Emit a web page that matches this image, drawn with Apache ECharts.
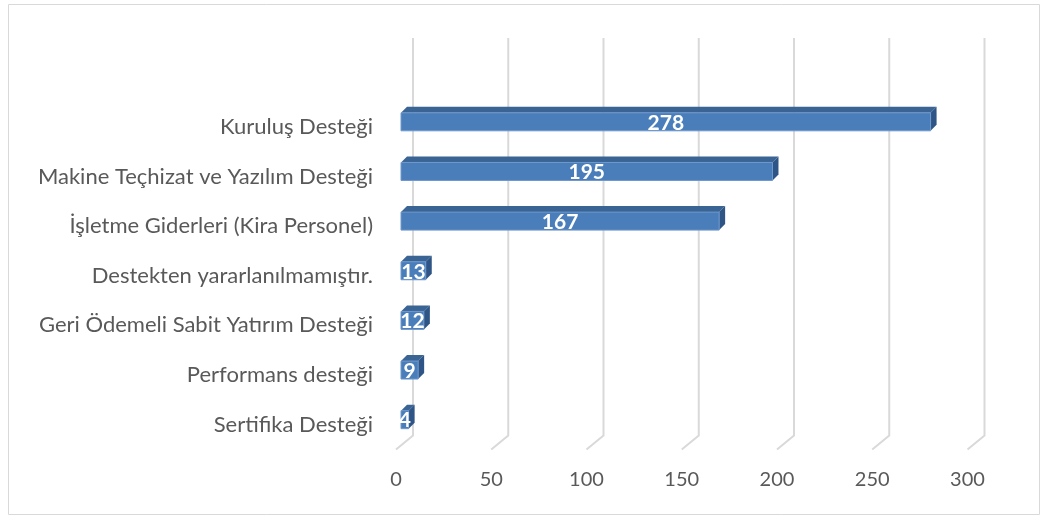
<!DOCTYPE html>
<html>
<head>
<meta charset="utf-8">
<title>Destek türleri</title>
<script src="https://cdn.jsdelivr.net/npm/echarts@6/dist/echarts.min.js"></script>
<style>
  html, body { margin : 0; padding : 0; background : #ffffff; }
  #chart { width : 1044px; height : 518px; }
</style>
</head>
<body>
<div id="chart"></div>
<script>
// ------------------------------ DATA ----------------------------------
// top to bottom, as in the picture
var categories = [
  'Kuruluş Desteği',
  'Makine Teçhizat ve Yazılım Desteği',
  'İşletme Giderleri (Kira Personel)',
  'Destekten yararlanılmamıştır.',
  'Geri Ödemeli Sabit Yatırım Desteği',
  'Performans desteği',
  'Sertifika Desteği'
];
var counts = [278, 195, 167, 13, 12, 9, 4];
var xTicks = [0, 50, 100, 150, 200, 250, 300];

var chart3d = (function () {
  var
    barH = 18,   // height of the front face
    depth = 6,   // 3d depth of a bar
    colors = { front : '#4a7ebb', top : '#3a6494', side : '#2e5585', grid : '#d9d9d9' },
    renderBar, renderGridLine, initModule
  ;

  // Begin render method /renderBar/
  renderBar = function (params, api) {
    var
      cat = api.value(0),
      val = api.value(1),
      p0 = api.coord([0, cat]),
      p1 = api.coord([val, cat]),
      yTop = p0[1] - barH / 2,
      yBot = p0[1] + barH / 2
    ;
    return {
      type : 'group',
      children : [
        {
          type : 'polygon',
          shape : { points : [[p0[0], yTop], [p1[0], yTop], [p1[0] + depth, yTop - depth], [p0[0] + depth, yTop - depth]] },
          style : { fill : colors.top }
        },
        {
          type : 'polygon',
          shape : { points : [[p1[0], yTop], [p1[0] + depth, yTop - depth], [p1[0] + depth, yBot - depth], [p1[0], yBot]] },
          style : { fill : colors.side }
        },
        {
          type : 'rect',
          shape : { x : p0[0], y : yTop, width : p1[0] - p0[0], height : barH },
          style : { fill : colors.front, stroke : '#6f98cc', lineWidth : 1 }
        },
        {
          type : 'text',
          x : (p0[0] + p1[0]) / 2,
          y : p0[1] + 1,
          style : {
            text : String(val),
            fill : '#ffffff',
            font : 'bold 21px Lato',
            align : 'center',
            verticalAlign : 'middle'
          }
        }
      ]
    };
  };
  // End render method /renderBar/

  // Begin render method /renderGridLine/
  // back wall line plus the slanted floor line
  renderGridLine = function (params, api) {
    var
      cs = params.coordSys,
      p = api.coord([api.value(0), 0]),
      xb = p[0] + 12,
      yt = cs.y - 59,
      yb = cs.y + cs.height - 9
    ;
    return {
      type : 'polyline',
      shape : { points : [[xb, yt], [xb, yb], [p[0] - 5, yb + 14]] },
      style : { stroke : colors.grid, lineWidth : 2, fill : null }
    };
  };
  // End render method /renderGridLine/

  // Begin public method /initModule/
  initModule = function (el) {
    var myChart = echarts.init(el, null, { renderer : 'canvas' });

    myChart.setOption({
      animation : false,
      textStyle : { fontFamily : 'Lato' },
      graphic : [
        {
          type : 'rect',
          shape : { x : 8.5, y : 4.5, width : 1031, height : 510 },
          style : { fill : null, stroke : '#d9d9d9', lineWidth : 1 },
          z : -10
        }
      ],
      grid : { left : 401, top : 97, width : 571.5, height : 347.5 },
      xAxis : {
        type : 'value',
        min : 0,
        max : 300,
        interval : 50,
        axisLine : { show : false },
        axisTick : { show : false },
        splitLine : { show : false },
        axisLabel : {
          color : '#595959',
          fontSize : 20,
          fontFamily : 'Lato',
          margin : 25,
          padding : [0, 10, 0, 0]
        }
      },
      yAxis : {
        type : 'category',
        inverse : true,
        data : categories,
        axisLine : { show : false },
        axisTick : { show : false },
        axisLabel : {
          margin : 28,
          formatter : function (v) { return '{c|' + v + '}'; },
          rich : {
            c : {
              color : '#595959',
              fontSize : 22,
              fontFamily : 'Lato',
              padding : [10, 0, 0, 0]
            }
          }
        }
      },
      series : [
        {
          type : 'custom',
          renderItem : renderGridLine,
          data : xTicks.map(function (t) { return [t]; }),
          encode : { x : 0 },
          silent : true,
          z : 1
        },
        {
          type : 'custom',
          renderItem : renderBar,
          data : counts.map(function (v, i) { return [i, v]; }),
          encode : { y : 0, x : 1 },
          z : 2
        }
      ]
    });
    return true;
  };
  // End public method /initModule/

  return { initModule : initModule };
}());

chart3d.initModule(document.getElementById('chart'));
</script>
</body>
</html>
